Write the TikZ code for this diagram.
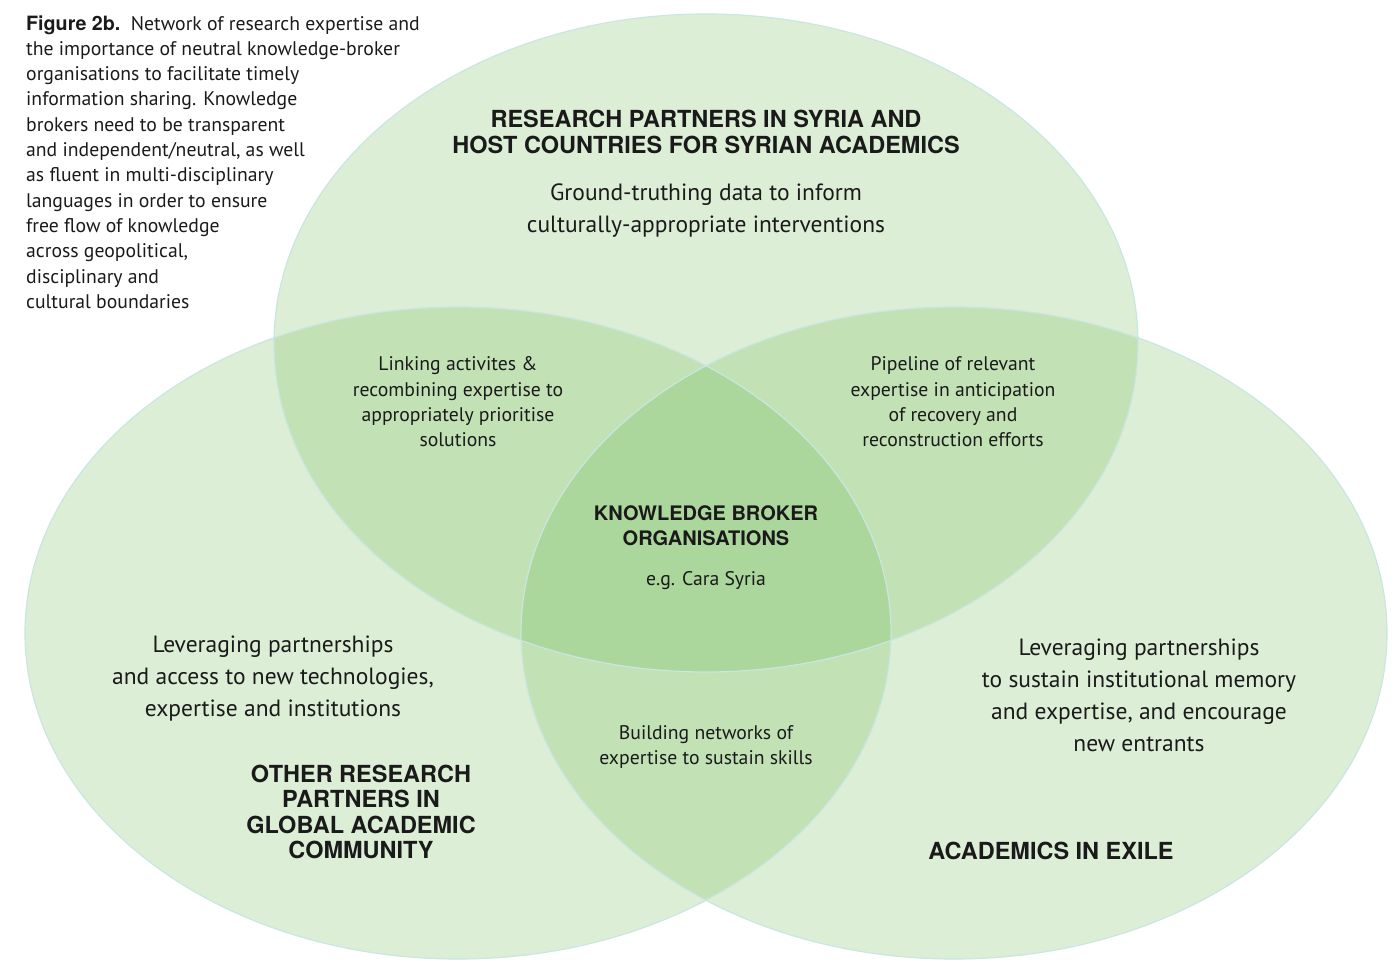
\documentclass[tikz,border=0pt]{standalone}
\usepackage{fontspec}
\setmainfont{PT Sans}
\newfontfamily\heads{TeX Gyre Heros}
\usepackage{tikz}

\definecolor{onefill}{HTML}{DDEED7}
\definecolor{twofill}{HTML}{C2E2B6}
\definecolor{threefill}{HTML}{ABD69C}
\definecolor{rimcol}{HTML}{C9E6E1}
\definecolor{ink}{HTML}{1A1A1A}

\tikzset{
  head/.style = {font=\heads\bfseries\fontsize{23.5}{25.3}\selectfont, align=center, text=ink, inner sep=0},
  midhead/.style = {head, font=\heads\bfseries\fontsize{20}{25}\selectfont},
  big/.style = {font=\fontsize{23.5}{32}\selectfont, align=center, text=ink, inner sep=0},
  small/.style = {font=\fontsize{19.7}{25.3}\selectfont, align=center, text=ink, inner sep=0},
  rim/.style = {draw=rimcol, line width=1.2pt}
}

\begin{document}
\begin{tikzpicture}[x=1pt, y=-1pt]
	\useasboundingbox (0,0) rectangle (1397,961);
	\coordinate (top) at (706,343);
	\coordinate (left) at (458,633);
	\coordinate (right) at (954,633);
	% single circles
	\fill[onefill] (top) ellipse [x radius=432, y radius=329];
	\fill[onefill] (left) ellipse [x radius=433, y radius=326];
	\fill[onefill] (right) ellipse [x radius=433, y radius=326];
	% pairwise overlaps
	\begin{scope}
		\clip (top) ellipse [x radius=432, y radius=329];
		\fill[twofill] (left) ellipse [x radius=433, y radius=326];
		\fill[twofill] (right) ellipse [x radius=433, y radius=326];
	\end{scope}
	\begin{scope}
		\clip (left) ellipse [x radius=433, y radius=326];
		\fill[twofill] (right) ellipse [x radius=433, y radius=326];
	\end{scope}
	% centre
	\begin{scope}
		\clip (top) ellipse [x radius=432, y radius=329];
		\clip (left) ellipse [x radius=433, y radius=326];
		\fill[threefill] (right) ellipse [x radius=433, y radius=326];
	\end{scope}
	\draw[rim] (top) ellipse [x radius=432, y radius=329];
	\draw[rim] (left) ellipse [x radius=433, y radius=326];
	\draw[rim] (right) ellipse [x radius=433, y radius=326];

	\node[small, align=left, anchor=west] (caption) at (26,162) {{\heads\bfseries Figure 2b.}\ \ Network of research expertise and\\
		the importance of neutral knowledge-broker\\
		organisations to facilitate timely\\
		information sharing. Knowledge\\
		brokers need to be transparent\\
		and independent/neutral, as well\\
		as fluent in multi-disciplinary\\
		languages in order to ensure\\
		free flow of knowledge\\
		across geopolitical,\\
		disciplinary and\\
		cultural boundaries};

	\node[head] (syria) at (706,132) {RESEARCH PARTNERS IN SYRIA AND\\HOST COUNTRIES FOR SYRIAN ACADEMICS};
	\node[big] (ground) at (706,211) {Ground-truthing data to inform\\culturally-appropriate interventions};
	\node[small] (linking) at (458,402) {Linking activites \&\\recombining expertise to\\appropriately prioritise\\solutions};
	\node[small] (pipeline) at (953,402) {Pipeline of relevant\\expertise in anticipation\\of recovery and\\reconstruction efforts};
	\node[midhead] (broker) at (706,526) {KNOWLEDGE BROKER\\ORGANISATIONS};
	\node[small] (cara) at (706,581) {e.g. Cara Syria};
	\node[big] (global) at (273,679) {Leveraging partnerships\\and access to new technologies,\\expertise and institutions};
	\node[big] (exile) at (1139,695) {Leveraging partnerships\\to sustain institutional memory\\and expertise, and encourage\\new entrants};
	\node[small] (building) at (706,747) {Building networks of\\expertise to sustain skills};
	\node[head] (other) at (361,812) {OTHER RESEARCH\\PARTNERS IN\\GLOBAL ACADEMIC\\COMMUNITY};
	\node[head] (exilehead) at (1051,851) {ACADEMICS IN EXILE};
\end{tikzpicture}
\end{document}
